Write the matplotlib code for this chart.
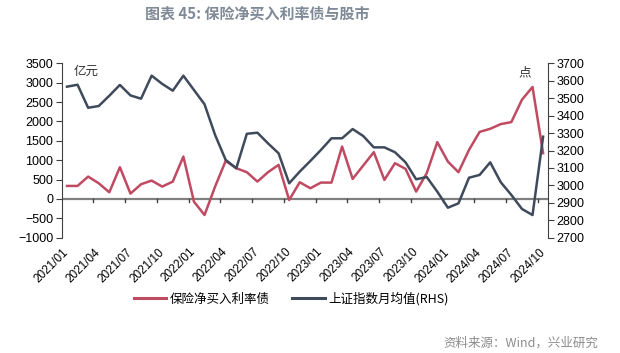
import numpy as np
import matplotlib
matplotlib.use("Agg")
import matplotlib.pyplot as plt
from matplotlib.lines import Line2D

plt.rcParams['font.family'] = ['Liberation Sans', 'Noto Sans CJK SC', 'DejaVu Sans']

# monthly data 2021/01 - 2024/10
months = [f"{y}/{m:02d}" for y in range(2021, 2025) for m in range(1, 13)][:46]

# insurance net purchase of rate bonds (100 mn yuan, LHS)
bond_buy = [336, 336, 577, 405, 172, 819, 138, 379, 474, 319,
            448, 1094, -70, -414, 319, 983, 793, 690, 448, 690,
            879, -26, 431, 276, 422, 422, 1353, 517, 862, 1207,
            491, 922, 776, 190, 664, 1465, 965, 690, 1267, 1730,
            1810, 1931, 1983, 2560, 2888, 1181]

# SSE composite monthly average (RHS)
sse_avg = [3566, 3577, 3445, 3455, 3514, 3576, 3516, 3497, 3629, 3582,
           3543, 3629, 3547, 3465, 3289, 3146, 3098, 3296, 3302, 3241,
           3184, 3012, 3079, 3140, 3203, 3270, 3270, 3323, 3283, 3218,
           3218, 3190, 3132, 3035, 3048, 2964, 2872, 2897, 3044, 3060,
           3132, 3018, 2945, 2865, 2830, 3279]

red = '#C04A62'
navy = '#3F4A5B'
axis_col = '#404040'
cjk = ['Noto Sans CJK SC', 'DejaVu Sans']

fig = plt.figure(figsize=(6.2, 3.53), dpi=100)
ax = fig.add_axes([0.0995, 0.3266, 0.785, 0.4941])
ax2 = ax.twinx()

x = np.arange(len(months))
ax.plot(x, bond_buy, color=red, lw=1.8, zorder=3)
ax2.plot(x, sse_avg, color=navy, lw=1.8, zorder=3)

ax.set_xlim(-0.5, len(months) - 0.5)
ax.set_ylim(-1000, 3500)
ax.set_yticks(np.arange(-1000, 3501, 500))
ax2.set_ylim(2700, 3700)
ax2.set_yticks(np.arange(2700, 3701, 100))

# zero line acts as the category axis
ax.axhline(0, color='#808080', lw=1.6, zorder=2)
for b in np.arange(2.5, len(months) - 1, 3):
    ax.plot([b, b], [0, -90], color=axis_col, lw=1, zorder=2, clip_on=False)

ax.set_xticks(x[::3])
ax.set_xticklabels(months[::3], rotation=45, ha='right', va='center',
                   rotation_mode='anchor', fontsize=8.5)
ax.tick_params(axis='x', length=0, pad=9)

for a in (ax, ax2):
    a.spines['top'].set_visible(False)
    a.spines['bottom'].set_visible(False)
    a.set_facecolor('none')
ax2.spines['left'].set_visible(False)
ax.spines['right'].set_visible(False)
ax.spines['left'].set_color(axis_col)
ax2.spines['right'].set_color(axis_col)
ax.tick_params(axis='y', direction='out', length=4, color=axis_col, labelsize=9, pad=2)
ax2.tick_params(axis='y', direction='out', length=4, color=axis_col, labelsize=9, pad=2)

ax.text(0.6, 3300, '亿元', fontsize=9, color='#333333', va='center', family=cjk)
ax2.text(43.3, 3645, '点', fontsize=9, color='#333333', va='center', ha='center',
         family=cjk)

fig.text(0.415, 0.962, '图表 45: 保险净买入利率债与股市', ha='center', va='center',
         fontsize=10.8, fontweight='bold', color='#7F8A96', family=cjk)

handles = [Line2D([], [], color=red, lw=2.2), Line2D([], [], color=navy, lw=2.2)]
fig.legend(handles, ['保险净买入利率债', '上证指数月均值(RHS)'], loc='center',
           bbox_to_anchor=(0.47, 0.153), ncol=2, frameon=False,
           handlelength=2.6, handletextpad=0.3, columnspacing=1.8,
           prop={'family': cjk, 'size': 9})

fig.text(0.965, 0.028, '资料来源：Wind，兴业研究', ha='right', va='center',
         fontsize=9, color='#8C8C8C', family=cjk)

fig.savefig('out.png', dpi=100)
